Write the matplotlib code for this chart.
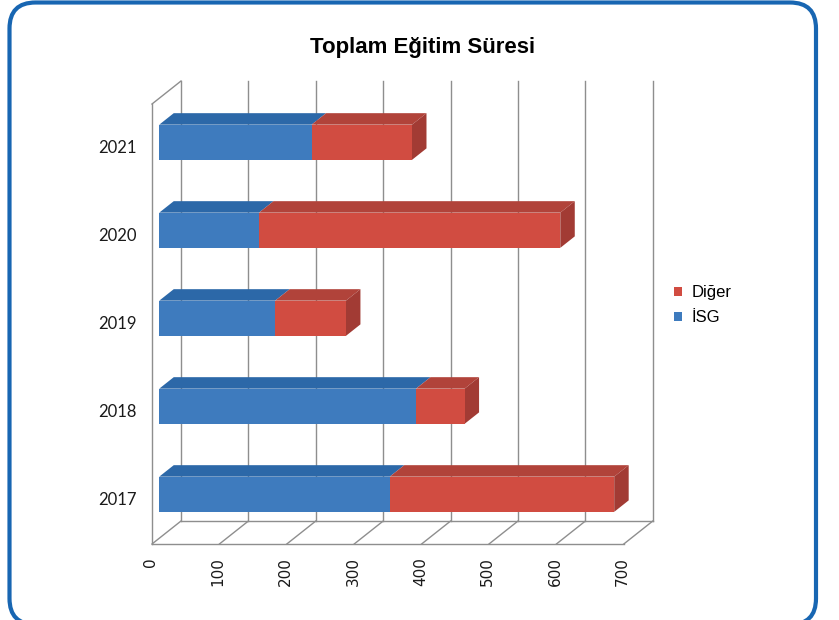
import matplotlib
matplotlib.use("Agg")
import matplotlib.pyplot as plt
from matplotlib.patches import Polygon, FancyBboxPatch, Patch

# ---- data ----
years = ["2017", "2018", "2019", "2020", "2021"]
isg = [342, 381, 172, 148, 226]
diger = [333, 72, 105, 447, 149]
xticks = [0, 100, 200, 300, 400, 500, 600, 700]
title = "Toplam Eğitim Süresi"
series_names = ["İSG", "Diğer"]

# ---- style ----
BLUE_F, BLUE_T = "#3E7BBE", "#2C68A8"
RED_F, RED_T, RED_S = "#D14C41", "#B1433A", "#A23B34"
GRID = "#8E8E8E"
BORDER = "#1866B2"

DX, DY = 43.0, 0.261        # depth offset in data units (value, category)
H = 0.2                     # bar half-height
D0, D1 = 0.25, 0.75         # bar depth range
CMIN, CMAX = -0.5, len(years) - 0.5
VMIN, VMAX = xticks[0], xticks[-1]


def P(v, c, d):
    return (v + DX * d, c + DY * d)


fig = plt.figure(figsize=(8.39, 6.20), dpi=100)
ax = fig.add_axes([0, 0, 1, 1])
ax.set_xlim(-152 / 0.674, (839 - 152) / 0.674)
ax.set_ylim((500 - 620) / 88, 500 / 88)
ax.axis("off")

lw = 1.0
# back wall gridlines
for v in xticks:
    a, b = P(v, CMIN, 1), P(v, CMAX, 1)
    ax.plot([a[0], b[0]], [a[1], b[1]], color=GRID, lw=lw, zorder=1)
    # floor diagonals
    a, b = P(v, CMIN, 0), P(v, CMIN, 1)
    ax.plot([a[0], b[0]], [a[1], b[1]], color=GRID, lw=lw, zorder=1)
# floor front & back lines
for d in (0, 1):
    a, b = P(VMIN, CMIN, d), P(VMAX, CMIN, d)
    ax.plot([a[0], b[0]], [a[1], b[1]], color=GRID, lw=lw, zorder=1)
# left wall
a, b = P(VMIN, CMIN, 0), P(VMIN, CMAX, 0)
ax.plot([a[0], b[0]], [a[1], b[1]], color=GRID, lw=lw, zorder=1)
a, b = P(VMIN, CMAX, 0), P(VMIN, CMAX, 1)
ax.plot([a[0], b[0]], [a[1], b[1]], color=GRID, lw=lw, zorder=1)


def box(v0, v1, c, front, top, side=None):
    fr = [P(v0, c - H, D0), P(v1, c - H, D0), P(v1, c + H, D0), P(v0, c + H, D0)]
    tp = [P(v0, c + H, D0), P(v1, c + H, D0), P(v1, c + H, D1), P(v0, c + H, D1)]
    ax.add_patch(Polygon(tp, closed=True, fc=top, ec="none", zorder=3))
    ax.add_patch(Polygon(fr, closed=True, fc=front, ec="none", zorder=4))
    if side is not None:
        sd = [P(v1, c - H, D0), P(v1, c + H, D0), P(v1, c + H, D1), P(v1, c - H, D1)]
        ax.add_patch(Polygon(sd, closed=True, fc=side, ec="none", zorder=3))


for i, (a_, b_) in enumerate(zip(isg, diger)):
    box(0, a_, i, BLUE_F, BLUE_T)
    box(a_, a_ + b_, i, RED_F, RED_T, RED_S)

# category labels
for i, y in enumerate(years):
    ax.text(-23, i, y, ha="right", va="center", fontsize=12,
            family="Lato", color="#1a1a1a")

# value tick labels
for v in xticks:
    x, y = P(v, CMIN, 0)
    ax.text(x - 2, y - 13 / 88, str(v), rotation=90, ha="center", va="top",
            fontsize=11, family="DejaVu Sans", color="#1a1a1a")

fig.text(423 / 839, 1 - 48 / 620, title, ha="center", va="center",
         fontsize=16, fontweight="bold", family="Liberation Sans")

handles = [Patch(fc=RED_F, ec="none"), Patch(fc=BLUE_F, ec="none")]
fig.legend(handles, [series_names[1], series_names[0]],
           loc="center left", bbox_to_anchor=(674 / 839, 1 - 305 / 620),
           frameon=False, prop={"family": "Liberation Sans", "size": 12},
           handlelength=0.45, handleheight=0.45, handletextpad=0.6,
           labelspacing=0.6, borderpad=0, borderaxespad=0)

# rounded blue frame
ov = fig.add_axes([0, 0, 1, 1], zorder=-1)
ov.set_xlim(0, 839)
ov.set_ylim(620, 0)
ov.axis("off")
ov.add_patch(FancyBboxPatch((9.5, 2.5), 806.5, 622, boxstyle="round,pad=0,rounding_size=26",
                            fc="white", ec=BORDER, lw=3.0))

fig.savefig("out.png", dpi=100)
